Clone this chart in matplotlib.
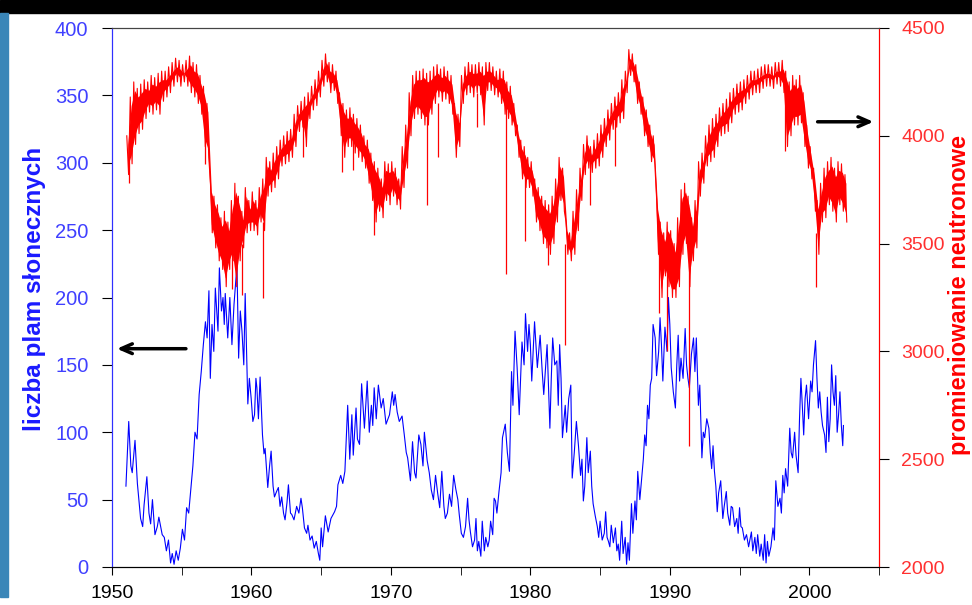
import numpy as np
import matplotlib
matplotlib.use("Agg")
import matplotlib.pyplot as plt
from matplotlib.patches import Rectangle

plt.rcParams['font.family'] = ['Liberation Sans', 'DejaVu Sans']

# liczba plam slonecznych (miesieczne)
sunspot_year = [
    1951.0, 1951.2, 1951.35, 1951.45, 1951.65, 1951.82, 1952.05, 1952.2, 1952.3, 1952.5,
    1952.65, 1952.77, 1952.9, 1953.08, 1953.25, 1953.36, 1953.6, 1953.75, 1953.9, 1954.05,
    1954.2, 1954.32, 1954.45, 1954.6, 1954.75, 1954.9, 1955.05, 1955.2, 1955.35, 1955.5,
    1955.67, 1955.8, 1955.95, 1956.1, 1956.25, 1956.4, 1956.55, 1956.7, 1956.82, 1956.95,
    1957.05, 1957.17, 1957.3, 1957.41, 1957.6, 1957.7, 1957.85, 1957.96, 1958.05, 1958.12,
    1958.3, 1958.45, 1958.6, 1958.75, 1958.96, 1959.08, 1959.2, 1959.32, 1959.45, 1959.55,
    1959.65, 1959.74, 1959.85, 1959.98, 1960.1, 1960.22, 1960.32, 1960.39, 1960.5, 1960.62,
    1960.79, 1960.9, 1960.98, 1961.1, 1961.17, 1961.3, 1961.41, 1961.55, 1961.65, 1961.8,
    1961.93, 1962.05, 1962.17, 1962.3, 1962.41, 1962.55, 1962.65, 1962.8, 1962.89, 1963.05,
    1963.24, 1963.4, 1963.55, 1963.65, 1963.8, 1963.96, 1964.05, 1964.2, 1964.35, 1964.5,
    1964.65, 1964.8, 1964.9, 1965.0, 1965.1, 1965.3, 1965.5, 1965.7, 1965.96, 1966.1,
    1966.2, 1966.4, 1966.55, 1966.7, 1966.9, 1967.05, 1967.2, 1967.3, 1967.5, 1967.6,
    1967.75, 1967.9, 1968.1, 1968.3, 1968.45, 1968.6, 1968.7, 1968.8, 1968.95, 1969.1,
    1969.3, 1969.45, 1969.65, 1969.9, 1970.1, 1970.2, 1970.3, 1970.45, 1970.6, 1970.8,
    1970.96, 1971.1, 1971.2, 1971.4, 1971.55, 1971.7, 1971.8, 1972.0, 1972.15, 1972.3,
    1972.4, 1972.6, 1972.75, 1972.9, 1973.05, 1973.2, 1973.35, 1973.5, 1973.65, 1973.8,
    1973.9, 1974.05, 1974.2, 1974.35, 1974.5, 1974.65, 1974.8, 1974.9, 1975.05, 1975.2,
    1975.35, 1975.5, 1975.6, 1975.7, 1975.85, 1976.0, 1976.1, 1976.2, 1976.3, 1976.45,
    1976.55, 1976.7, 1976.8, 1976.95, 1977.05, 1977.15, 1977.3, 1977.4, 1977.5, 1977.6,
    1977.75, 1977.9, 1978.0, 1978.2, 1978.35, 1978.5, 1978.65, 1978.75, 1978.9, 1979.05,
    1979.2, 1979.3, 1979.4, 1979.55, 1979.65, 1979.8, 1979.9, 1980.0, 1980.1, 1980.3,
    1980.5, 1980.6, 1980.7, 1980.85, 1980.96, 1981.1, 1981.2, 1981.4, 1981.5, 1981.6,
    1981.75, 1981.9, 1982.0, 1982.1, 1982.2, 1982.3, 1982.5, 1982.6, 1982.75, 1982.9,
    1983.0, 1983.15, 1983.3, 1983.45, 1983.6, 1983.7, 1983.8, 1983.9, 1984.05, 1984.15,
    1984.3, 1984.4, 1984.5, 1984.65, 1984.8, 1984.9, 1985.0, 1985.15, 1985.3, 1985.4,
    1985.5, 1985.6, 1985.7, 1985.8, 1985.95, 1986.1, 1986.2, 1986.3, 1986.4, 1986.55,
    1986.65, 1986.8, 1986.9, 1987.0, 1987.1, 1987.25, 1987.35, 1987.5, 1987.6, 1987.7,
    1987.85, 1987.98, 1988.1, 1988.2, 1988.3, 1988.4, 1988.5, 1988.6, 1988.7, 1988.8,
    1988.95, 1989.05, 1989.2, 1989.3, 1989.4, 1989.5, 1989.65, 1989.8, 1989.9, 1990.0,
    1990.1, 1990.25, 1990.4, 1990.5, 1990.6, 1990.7, 1990.8, 1990.95, 1991.1, 1991.2,
    1991.3, 1991.4, 1991.55, 1991.7, 1991.8, 1991.9, 1992.05, 1992.15, 1992.3, 1992.4,
    1992.5, 1992.65, 1992.8, 1992.9, 1993.0, 1993.1, 1993.2, 1993.3, 1993.4, 1993.5,
    1993.65, 1993.8, 1993.9, 1994.05, 1994.15, 1994.3, 1994.4, 1994.5, 1994.65, 1994.8,
    1994.9, 1995.0, 1995.1, 1995.2, 1995.35, 1995.5, 1995.65, 1995.85, 1995.95, 1996.1,
    1996.2, 1996.3, 1996.45, 1996.55, 1996.7, 1996.8, 1996.9, 1997.0, 1997.1, 1997.25,
    1997.4, 1997.5, 1997.6, 1997.75, 1997.9, 1998.0, 1998.1, 1998.2, 1998.3, 1998.45,
    1998.6, 1998.7, 1998.8, 1998.95, 1999.05, 1999.2, 1999.3, 1999.4, 1999.5, 1999.6,
    1999.7, 1999.8, 1999.95, 2000.1, 2000.2, 2000.3, 2000.45, 2000.55, 2000.65, 2000.75,
    2000.85, 2000.95, 2001.1, 2001.2, 2001.3, 2001.4, 2001.5, 2001.6, 2001.7, 2001.8,
    2001.9, 2002.0, 2002.1, 2002.2, 2002.3, 2002.4, 2002.45,
]
sunspot_count = [
    60, 108, 75, 70, 94, 62, 36, 30, 46, 67,
    40, 32, 50, 24, 30, 37, 24, 22, 12, 20,
    3, 10, 2, 12, 5, 14, 28, 20, 44, 40,
    60, 75, 100, 95, 128, 145, 165, 182, 170, 205,
    140, 180, 160, 207, 175, 222, 190, 200, 180, 203,
    170, 200, 165, 195, 224, 155, 190, 175, 150, 203,
    160, 121, 140, 125, 108, 113, 140, 133, 110, 141,
    98, 84, 88, 70, 59, 75, 86, 60, 52, 56,
    59, 45, 52, 40, 35, 48, 61, 40, 39, 35,
    45, 40, 51, 44, 29, 25, 31, 20, 23, 14,
    19, 10, 5, 29, 15, 38, 26, 36, 41, 45,
    61, 68, 62, 71, 120, 80, 113, 83, 118, 95,
    91, 136, 103, 138, 100, 120, 105, 133, 110, 135,
    118, 125, 106, 113, 130, 120, 128, 115, 108, 112,
    98, 85, 81, 64, 93, 70, 66, 98, 91, 75,
    100, 79, 70, 57, 50, 68, 55, 44, 71, 45,
    36, 40, 54, 45, 68, 58, 50, 39, 25, 22,
    30, 51, 35, 26, 15, 20, 36, 12, 19, 8,
    34, 12, 22, 15, 20, 34, 24, 51, 49, 40,
    56, 70, 96, 106, 85, 71, 145, 120, 175, 148,
    113, 140, 167, 150, 188, 160, 180, 165, 138, 182,
    148, 160, 172, 145, 128, 150, 165, 103, 140, 170,
    150, 153, 120, 165, 140, 96, 120, 100, 125, 135,
    66, 85, 108, 90, 68, 80, 49, 60, 96, 70,
    86, 60, 47, 38, 30, 22, 34, 20, 25, 41,
    22, 19, 15, 31, 18, 29, 12, 17, 5, 34,
    10, 22, 2, 18, 5, 47, 25, 49, 35, 71,
    50, 66, 80, 98, 90, 120, 110, 135, 140, 180,
    170, 142, 160, 185, 165, 138, 178, 160, 200, 180,
    148, 130, 118, 150, 172, 138, 155, 140, 177, 150,
    140, 133, 158, 170, 145, 170, 120, 135, 81, 100,
    96, 110, 103, 85, 73, 90, 71, 60, 41, 55,
    64, 36, 45, 56, 40, 31, 45, 44, 30, 36,
    25, 44, 30, 29, 20, 24, 15, 26, 12, 22,
    10, 24, 8, 17, 5, 24, 3, 19, 8, 15,
    29, 20, 64, 45, 51, 40, 68, 55, 73, 60,
    103, 85, 81, 100, 83, 70, 110, 140, 120, 98,
    125, 135, 110, 138, 130, 150, 168, 140, 118, 130,
    115, 105, 98, 85, 126, 93, 110, 150, 130, 120,
    142, 100, 113, 130, 105, 90, 105,
]

# promieniowanie neutronowe: gorna i dolna krawedz pasa, kwartalnie (1951-2002)
neutron_start = 1951
neutron_hi = [
    4000, 4180, 4250, 4220,  4240, 4260, 4250, 4280,  4270, 4290, 4300, 4300,
    4320, 4340, 4360, 4350,  4330, 4350, 4370, 4340,  4330, 4280, 4230, 4150,
    3780, 3720, 3680, 3620,  3650, 3600, 3700, 3780,  3720, 3650, 3760, 3700,
    3740, 3700, 3760, 3800,  3900, 3880, 3920, 3950,  3980, 4000, 4020, 4030,
    4100, 4140, 4160, 4180,  4200, 4230, 4260, 4300,  4350, 4380, 4340, 4330,
    4300, 4200, 4150, 4120,  4130, 4100, 4080, 4050,  4000, 3980, 3920, 3880,
    3850, 3800, 3880, 3870,  3880, 3850, 3800, 3950,  4050, 4200, 4280, 4300,
    4300, 4310, 4290, 4300,  4320, 4330, 4310, 4320,  4300, 4280, 4150, 4100,
    4280, 4320, 4340, 4330,  4330, 4340, 4320, 4340,  4340, 4320, 4300, 4310,
    4300, 4250, 4230, 4150,  4050, 3980, 3950, 3900,  3880, 3800, 3760, 3720,
    3700, 3680, 3720, 3800,  3900, 3850, 3600, 3550,  3650, 3750, 3850, 3960,
    4000, 3950, 3980, 4010,  4050, 4080, 4120, 4150,  4180, 4200, 4260, 4300,
    4400, 4380, 4330, 4250,  4180, 4120, 4050, 4000,  3700, 3600, 3550, 3600,
    3560, 3500, 3620, 3750,  3780, 3720, 3620, 3700,  3880, 3920, 4000, 4050,
    4080, 4100, 4130, 4150,  4170, 4200, 4220, 4240,  4250, 4260, 4280, 4300,
    4300, 4310, 4320, 4330,  4330, 4320, 4340, 4340,  4350, 4300, 4250, 4280,
    4260, 4280, 4200, 4050,  3950, 3850, 3700, 3780,  3850, 3880, 3900, 3850,
    3880, 3870, 3820,
]
neutron_lo = [
    3820, 3870, 3960, 4010,  4030, 4080, 4110, 4100,  4120, 4100, 4160, 4180,
    4200, 4230, 4250, 4230,  4250, 4230, 4200, 4180,  4150, 4100, 3950, 3900,
    3550, 3480, 3420, 3380,  3300, 3380, 3420, 3300,  3420, 3480, 3550, 3560,
    3560, 3540, 3600, 3560,  3720, 3740, 3760, 3800,  3860, 3870, 3880, 3900,
    3950, 4020, 4040, 3950,  4080, 4120, 4140, 4180,  4230, 4250, 4200, 4210,
    4150, 4000, 3900, 3950,  3950, 3920, 3900, 3880,  3850, 3780, 3700, 3600,
    3650, 3620, 3700, 3680,  3720, 3680, 3660, 3760,  3850, 4000, 4080, 4100,
    4080, 4050, 4050, 4100,  4150, 4180, 4160, 4170,  4150, 4100, 3900, 3950,
    4150, 4190, 4200, 4180,  4200, 4190, 4050, 4210,  4210, 4190, 4180, 4150,
    4100, 4080, 4050, 4000,  3900, 3800, 3760, 3760,  3720, 3600, 3560, 3500,
    3480, 3450, 3500, 3600,  3700, 3650, 3450, 3420,  3450, 3560, 3700, 3820,
    3850, 3830, 3850, 3860,  3900, 3950, 3980, 4030,  4040, 4060, 4080, 4200,
    4280, 4250, 4150, 4100,  4000, 3950, 3880, 3850,  3450, 3250, 3350, 3300,
    3250, 3250, 3300, 3450,  3500, 3300, 3420, 3480,  3720, 3780, 3860, 3880,
    3900, 3950, 4000, 4010,  4020, 4060, 4100, 4110,  4120, 4150, 4170, 4190,
    4200, 4200, 4220, 4230,  4230, 4220, 4240, 4230,  4200, 3950, 4000, 4050,
    4050, 4060, 3950, 3850,  3800, 3650, 3450, 3600,  3620, 3680, 3650, 3600,
    3680, 3650, 3600,
]
# pojedyncze glebokie spadki (spadki Forbusha)
spike_year = [1951.2, 1956.7, 1958.6, 1959.3, 1960.85, 1963.7, 1966.5, 1967.3, 1968.8,
              1972.6, 1973.35, 1976.2, 1978.27, 1979.6, 1981.3, 1982.5, 1984.3, 1986.1,
              1989.2, 1989.8, 1991.4, 1998.25, 2000.5]
spike_top = [3950, 4050, 3500, 3500, 3600, 4080, 4050, 4000, 3750,
             4100, 4150, 4200, 4150, 3850, 3650, 3500, 3900, 4100,
             3500, 3400, 3400, 4200, 3550]
spike_low = [3780, 3870, 3290, 3260, 3250, 3900, 3830, 3840, 3540,
             3680, 3900, 4040, 3360, 3510, 3400, 3030, 3680, 3860,
             3180, 3000, 2560, 3930, 3300]

W, H = 972, 605
fig = plt.figure(figsize=(W / 100, H / 100), dpi=100)
fig.patch.set_facecolor('white')

# ramka slajdu
fig.add_artist(Rectangle((0, 1 - 13 / H), 1, 13 / H, transform=fig.transFigure,
                         color='black', zorder=0))
fig.add_artist(Rectangle((0, 8 / H), 8 / W, 1 - 21 / H, transform=fig.transFigure,
                         color='#3a86b8', zorder=0))

ax = fig.add_axes([112 / W, 1 - 567 / H, (879 - 112) / W, (567 - 28) / H])
ax2 = ax.twinx()

# pas neutronowy: naprzemiennie gorna i dolna krawedz
n = len(neutron_hi)
q = np.arange(n) / 4 + neutron_start
t = np.empty(2 * n)
v = np.empty(2 * n)
t[0::2] = q + 0.06
t[1::2] = q + 0.19
v[0::2] = neutron_hi
v[1::2] = neutron_lo
band_lo = np.minimum(neutron_hi, neutron_lo)
band_hi = np.maximum(neutron_hi, neutron_lo)
ax2.fill_between(q + 0.125, band_lo + 40, band_hi - 40, color='#ff0000', lw=0)
ax2.plot(t, v, color='#ff0000', lw=0.8)
ax2.vlines(spike_year, spike_low, spike_top, color='#ff0000', lw=0.9)

ax.plot(sunspot_year, sunspot_count, color='#0000ff', lw=0.8)

ax.set_xlim(1950, 2005)
ax.set_ylim(0, 400)
ax2.set_ylim(2000, 4500)
ax.set_xticks(range(1950, 2001, 10))
ax.set_xticks(range(1955, 2006, 10), minor=True)
ax.set_yticks(range(0, 401, 50))
ax2.set_yticks(range(2000, 4501, 500))

ax.spines['left'].set_color('#3030ff')
ax2.spines['left'].set_color('#3030ff')
ax2.spines['right'].set_color('#ff0000')
ax.spines['right'].set_color('#ff0000')
for a in (ax, ax2):
    a.spines['top'].set_color('#444444')
    a.spines['bottom'].set_color('black')

ax.tick_params(axis='x', which='both', direction='out', length=6, color='black',
               labelsize=14, pad=7)
ax.tick_params(axis='y', direction='out', length=7, color='black',
               labelcolor='#4040ff', labelsize=14.5, pad=10)
ax2.tick_params(axis='y', direction='out', length=7, color='black',
                labelcolor='#ff3030', labelsize=14, pad=9)

fig.text(35 / W, 1 - 289 / H, 'liczba plam słonecznych', rotation=90,
         color='#1a1aff', fontsize=17.5, fontweight='bold', ha='center', va='center')
fig.text(971 / W, 1 - 295 / H, 'promieniowanie neutronowe', rotation=90,
         color='#ff0000', fontsize=17, fontweight='bold', ha='right', va='center')

ax.annotate('', xy=(1950.15, 162), xytext=(1955.5, 162),
            arrowprops=dict(arrowstyle='->,head_length=0.8,head_width=0.35',
                            color='black', lw=2.5))
ax2.annotate('', xy=(2004.8, 4065), xytext=(2000.4, 4065),
             arrowprops=dict(arrowstyle='->,head_length=0.8,head_width=0.35',
                             color='black', lw=2.5))

fig.savefig('out.png', dpi=100)
